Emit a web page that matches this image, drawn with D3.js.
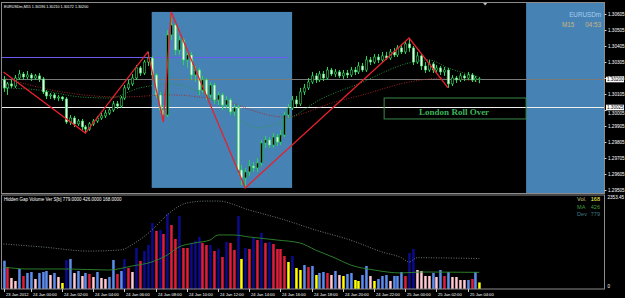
<!DOCTYPE html>
<html><head><meta charset="utf-8">
<script src="https://cdn.jsdelivr.net/npm/d3@7"></script>
<style>html,body{margin:0;padding:0;background:#000;overflow:hidden}svg{display:block}</style>
</head><body><svg id="c" width="625" height="298"></svg>
<script>
// ---------- DATA ----------
const open  = [1.30193,1.30143,1.30168,1.30155,1.30205,1.30230,1.30211,1.30224,1.30205,1.30218,
1.30199,1.30118,1.30093,1.30099,1.30080,1.30086,1.30074,1.29930,1.29955,1.29918,
1.29936,1.29899,1.29886,1.29918,1.29936,1.29955,1.29968,1.29986,1.30005,1.30043,
1.30030,1.30080,1.30143,1.30168,1.30205,1.30268,1.30236,1.30305,1.30330,1.30224,
1.30099,1.30005,1.29974,1.30474,1.30536,1.30380,1.30443,1.30318,1.30349,1.30224,
1.30255,1.30130,1.30193,1.30099,1.30161,1.30068,1.30099,1.30036,1.30068,1.29993,
1.30018,1.29630,1.29580,1.29618,1.29655,1.29643,1.29674,1.29799,1.29818,1.29786,
1.29836,1.29805,1.29849,1.29974,1.30018,1.30068,1.30043,1.30118,1.30143,1.30180,
1.30218,1.30193,1.30230,1.30205,1.30255,1.30230,1.30243,1.30218,1.30236,1.30224,
1.30255,1.30243,1.30280,1.30255,1.30318,1.30305,1.30336,1.30318,1.30343,1.30330,
1.30368,1.30349,1.30393,1.30368,1.30418,1.30393,1.30305,1.30343,1.30280,1.30255,
1.30293,1.30255,1.30268,1.30243,1.30255,1.30168,1.30205,1.30193,1.30218,1.30205,
1.30224,1.30193,1.30196];
const high  = [1.30218,1.30180,1.30193,1.30224,1.30255,1.30243,1.30249,1.30236,1.30230,1.30236,
1.30211,1.30130,1.30111,1.30111,1.30099,1.30093,1.30086,1.29974,1.29968,1.29949,
1.29949,1.29911,1.29930,1.29949,1.29968,1.29986,1.30005,1.30018,1.30061,1.30061,
1.30093,1.30161,1.30193,1.30230,1.30286,1.30280,1.30318,1.30368,1.30343,1.30236,
1.30118,1.30036,1.30505,1.30618,1.30555,1.30468,1.30455,1.30380,1.30368,1.30280,
1.30268,1.30218,1.30205,1.30180,1.30174,1.30118,1.30111,1.30093,1.30080,1.30043,
1.30036,1.29661,1.29643,1.29693,1.29680,1.29705,1.29818,1.29843,1.29836,1.29861,
1.29855,1.29880,1.29993,1.30043,1.30093,1.30093,1.30143,1.30168,1.30205,1.30243,
1.30236,1.30249,1.30249,1.30274,1.30268,1.30261,1.30255,1.30255,1.30255,1.30274,
1.30274,1.30305,1.30299,1.30343,1.30336,1.30355,1.30355,1.30368,1.30368,1.30386,
1.30393,1.30411,1.30418,1.30436,1.30455,1.30405,1.30368,1.30355,1.30305,1.30318,
1.30305,1.30286,1.30280,1.30274,1.30268,1.30224,1.30218,1.30236,1.30230,1.30243,
1.30236,1.30218,1.30210];
const low   = [1.30118,1.30099,1.30143,1.30143,1.30193,1.30193,1.30199,1.30186,1.30193,1.30180,
1.30105,1.30074,1.30074,1.30068,1.30061,1.30061,1.29918,1.29911,1.29899,1.29905,
1.29880,1.29861,1.29874,1.29905,1.29924,1.29943,1.29955,1.29974,1.29993,1.30011,
1.30018,1.30068,1.30130,1.30155,1.30193,1.30218,1.30224,1.30280,1.30205,1.30080,
1.29986,1.29930,1.29961,1.30443,1.30349,1.30349,1.30286,1.30268,1.30193,1.30180,
1.30099,1.30111,1.30068,1.30080,1.30043,1.30036,1.30005,1.30018,1.29974,1.29968,
1.29599,1.29536,1.29518,1.29593,1.29618,1.29618,1.29655,1.29768,1.29768,1.29768,
1.29780,1.29786,1.29836,1.29955,1.30005,1.30024,1.30030,1.30099,1.30130,1.30168,
1.30174,1.30180,1.30186,1.30193,1.30218,1.30211,1.30205,1.30199,1.30205,1.30211,
1.30224,1.30230,1.30243,1.30243,1.30286,1.30293,1.30299,1.30305,1.30318,1.30318,
1.30336,1.30336,1.30355,1.30355,1.30368,1.30286,1.30293,1.30255,1.30236,1.30243,
1.30236,1.30236,1.30224,1.30218,1.30143,1.30155,1.30174,1.30180,1.30186,1.30193,
1.30180,1.30180,1.30172];
const close = [1.30143,1.30168,1.30155,1.30205,1.30230,1.30211,1.30224,1.30205,1.30218,1.30199,
1.30118,1.30093,1.30099,1.30080,1.30086,1.30074,1.29930,1.29955,1.29918,1.29936,
1.29899,1.29886,1.29918,1.29936,1.29955,1.29968,1.29986,1.30005,1.30043,1.30030,
1.30080,1.30143,1.30168,1.30205,1.30268,1.30236,1.30305,1.30330,1.30224,1.30099,
1.30005,1.29974,1.30474,1.30536,1.30380,1.30443,1.30318,1.30349,1.30224,1.30255,
1.30130,1.30193,1.30099,1.30161,1.30068,1.30099,1.30036,1.30068,1.29993,1.30018,
1.29630,1.29580,1.29618,1.29655,1.29643,1.29674,1.29799,1.29818,1.29786,1.29836,
1.29805,1.29849,1.29974,1.30018,1.30068,1.30043,1.30118,1.30143,1.30180,1.30218,
1.30193,1.30230,1.30205,1.30255,1.30230,1.30243,1.30218,1.30236,1.30224,1.30255,
1.30243,1.30280,1.30255,1.30318,1.30305,1.30336,1.30318,1.30343,1.30330,1.30368,
1.30349,1.30393,1.30368,1.30418,1.30393,1.30305,1.30343,1.30280,1.30255,1.30293,
1.30255,1.30268,1.30243,1.30255,1.30168,1.30205,1.30193,1.30218,1.30205,1.30224,
1.30193,1.30205,1.30200];

const volume = [724,563,282,205,512,333,410,435,256,410,
435,461,358,410,307,154,742,768,410,461,
333,410,384,307,435,282,256,307,742,384,
461,768,538,435,1050,717,973,1126,1690,1485,
1510,1408,1920,1638,1280,1869,1050,1050,1178,1229,
1331,1178,1126,1126,973,1024,819,1203,1178,998,
1869,768,1050,1024,1306,1254,1434,1178,1203,1152,
1024,1024,845,691,845,538,486,614,563,589,
358,410,435,410,358,461,358,333,384,410,
230,205,358,589,333,205,256,333,358,205,
333,333,435,333,922,1024,486,461,333,333,
410,307,486,333,435,307,307,230,230,230,
256,435,168];
// volume bar class: L up-normal, D up-high, R down-high, P down-normal, Y low
const volClass = ("LRPPLRLLPL"+"LLPLPYDLPL"+"PLRPLPPLLR"+"LDRPDRDDDR"+"DRDRRDRRDD"+
                  "DRRDRDRDRR"+"DYDRDRDRDR"+"RRRYDYYLRL"+"YLLRPLPYLL"+"YYLLPYLLLP"+
                  "LLLRDDPPPP"+"LPLRLPPPPL"+"RLY").split("");

const zigIdx   = [0, 21, 37, 41, 43, 62, 104, 114];
const zigPrice = [1.30243, 1.29861, 1.30368, 1.29930, 1.30618, 1.29518, 1.30455, 1.30143];

const maFastIdx   = [0,9,20,27,35,43,50,58,65,74,81,91,104,109,114,122];
const maFastPrice = [1.30143,1.30130,1.30086,1.30080,1.30143,1.30168,1.30118,1.29993,1.29893,1.29961,1.30068,1.30168,1.30299,1.30318,1.30268,1.30211];
const maSlowIdx   = [0,15,30,43,55,72,85,92,104,113,122];
const maSlowPrice = [1.30205,1.30118,1.30086,1.30099,1.30068,1.29961,1.30055,1.30099,1.30180,1.30205,1.30180];

const volMaIdx = [0,6,16,27,33,38,42,45,49,53,55,59,63,70,76,80,85,89,95,102,107,122];
const volMa    = [563,512,512,486,589,691,870,1075,1178,1254,1382,1382,1331,1254,1178,998,794,614,486,410,435,426];
const devIdx = [0,10,22,30,34,38,42,47,52,55,63,72,80,89,97,102,104,106,122];
const devVal = [1152,1075,970,1000,1200,1500,1900,2200,2250,2250,2020,1770,1510,1250,950,800,690,800,779];

const priceTicks = [1.30605,1.30505,1.30405,1.30305,1.30205,1.30105,1.30005,1.29905,1.29805,1.29705,1.29605,1.29505];
const timeIdx    = [0,7,15,23,31,39,47,55,63,71,79,87,95,103,111,119];
const timeLabels = ["23 Jan 2012","24 Jan 00:00","24 Jan 02:00","24 Jan 04:00","24 Jan 06:00","24 Jan 08:00",
  "24 Jan 10:00","24 Jan 12:00","24 Jan 14:00","24 Jan 16:00","24 Jan 18:00","24 Jan 20:00","24 Jan 22:00",
  "25 Jan 00:00","25 Jan 02:00","25 Jan 04:00"];

const symbolTitle = "EURUSDm,M15  1.30196 1.30210 1.30172 1.30200";
const volTitle = "Hidden Gap Volume Ver S[b] 779.0000 426.0000 168.0000";
const currentPrice = 1.30200;
const hLinePrice = 1.30025;
const purpleLinePrice = 1.30336, purpleLineEnd = 73;
const box1 = {i0:38, i1:74, p0:1.30618, p1:1.29518};
const box2 = {i0:134};
const rollBox = {i0:97.6, i1:134, p0:1.30080, p1:1.29949, label:"London Roll Over"};

// ---------- SCALES ----------
const svg = d3.select("#c");
const L = 2, R = 604.5, T = 2.5, B = 193.5, VT = 195.5, VB = 289;
const x = d3.scaleLinear().domain([0, 154]).range([3.5, 3.5 + 3.9*154]);
const y = d3.scaleLinear().domain([1.29505, 1.30605]).range([190, 14]);
const yv = d3.scaleLinear().domain([0, 2353.45]).range([VB, 197]);
const volColor = d3.scaleOrdinal().domain(["L","D","R","P","Y"])
  .range(["#5b8def","#0b0b8c","#e01e3c","#ffc8d2","#ffff00"]);

svg.append("rect").attr("width",625).attr("height",298).attr("fill","#000");
const defs = svg.append("defs");
defs.append("clipPath").attr("id","cm").append("rect").attr("x",L).attr("y",T).attr("width",R-L).attr("height",B-T);
defs.append("clipPath").attr("id","cv").append("rect").attr("x",L).attr("y",VT).attr("width",R-L).attr("height",VB-VT);

const gm = svg.append("g").attr("clip-path","url(#cm)");
// blue boxes
gm.append("rect").attr("x",x(box1.i0)).attr("y",y(box1.p0)).attr("width",x(box1.i1)-x(box1.i0))
  .attr("height",y(box1.p1)-y(box1.p0)).attr("fill","#4682b4");
gm.append("rect").attr("x",x(box2.i0)).attr("y",T).attr("width",R-x(box2.i0)).attr("height",B-T).attr("fill","#4682b4");
// horizontal lines
gm.append("line").attr("x1",L).attr("x2",x(purpleLineEnd)).attr("y1",Math.round(y(purpleLinePrice))+0.5)
  .attr("y2",Math.round(y(purpleLinePrice))+0.5).attr("stroke","#6a5cf0").attr("stroke-width",1.2);
gm.append("line").attr("x1",L).attr("x2",R).attr("y1",Math.round(y(currentPrice))+0.5)
  .attr("y2",Math.round(y(currentPrice))+0.5).attr("stroke","#7a7a7a").attr("stroke-width",1);
gm.append("line").attr("x1",L).attr("x2",R).attr("y1",Math.round(y(hLinePrice))+0.5)
  .attr("y2",Math.round(y(hLinePrice))+0.5).attr("stroke","#f0f0f0").attr("stroke-width",1);
// roll over box
gm.append("rect").attr("x",x(rollBox.i0)).attr("y",y(rollBox.p0)).attr("width",x(rollBox.i1)-x(rollBox.i0))
  .attr("height",y(rollBox.p1)-y(rollBox.p0)).attr("fill","none").attr("stroke","#3a8a4a").attr("stroke-width",1);
gm.append("text").attr("x",(x(rollBox.i0)+x(rollBox.i1))/2 - 1).attr("y",y(rollBox.p1)-3.5)
  .attr("text-anchor","middle").attr("font-family","Liberation Serif").attr("font-weight","bold")
  .attr("font-size",9).attr("fill","#3cb45a").text(rollBox.label);

// moving averages
const line = d3.line().curve(d3.curveMonotoneX);
gm.append("path").attr("d",line(maSlowIdx.map((d,i)=>[x(d),y(maSlowPrice[i])])))
  .attr("fill","none").attr("stroke","#b02828").attr("stroke-width",0.9).attr("stroke-dasharray","1,1.5");
gm.append("path").attr("d",line(maFastIdx.map((d,i)=>[x(d),y(maFastPrice[i])])))
  .attr("fill","none").attr("stroke","#2aa040").attr("stroke-width",0.9).attr("stroke-dasharray","1,1.5");

// candles (bear = white body, bull = black body, green outline)
const idx = d3.range(close.length);
const cg = gm.append("g");
cg.selectAll("line").data(idx).join("line")
  .attr("x1",i=>Math.round(x(i))+0.5).attr("x2",i=>Math.round(x(i))+0.5)
  .attr("y1",i=>y(high[i])).attr("y2",i=>y(low[i])).attr("stroke","#2ed25a").attr("stroke-width",1);
cg.selectAll("rect").data(idx).join("rect")
  .attr("x",i=>Math.round(x(i))-0.7).attr("width",2.4)
  .attr("y",i=>y(Math.max(open[i],close[i])))
  .attr("height",i=>Math.max(0.8,Math.abs(y(open[i])-y(close[i]))))
  .attr("fill",i=>close[i]>=open[i]?"#000":"#eaffea")
  .attr("stroke","#2ed25a").attr("stroke-width",0.6);

// zigzag
gm.append("path").attr("d",d3.line()(zigIdx.map((d,i)=>[x(d),y(zigPrice[i])])))
  .attr("fill","none").attr("stroke","#e8202c").attr("stroke-width",1.3);

// top-right info
svg.append("text").attr("x",601).attr("y",16.5).attr("text-anchor","end").attr("font-family","Liberation Sans")
  .attr("font-size",6.3).attr("fill","#a8cdf0").text("EURUSDm");
svg.append("text").attr("x",562).attr("y",26.5).attr("font-family","Liberation Sans")
  .attr("font-size",6.3).attr("fill","#cdb57a").text("M15");
svg.append("text").attr("x",601).attr("y",26.5).attr("text-anchor","end").attr("font-family","Liberation Sans")
  .attr("font-size",6.3).attr("fill","#cdb57a").text("04:53");
// small shift marker
svg.append("path").attr("d",`M${x(123.5)-2},3 L${x(123.5)+2},3 L${x(123.5)},5.5 Z`).attr("fill","#c0c0c0");

// title
svg.append("text").attr("x",4).attr("y",8).attr("font-family","Liberation Sans").attr("font-size",3.7)
  .attr("fill","#fff").text(symbolTitle);

// ---------- VOLUME ----------
const gv = svg.append("g").attr("clip-path","url(#cv)");
gv.selectAll("rect").data(idx).join("rect")
  .attr("x",i=>Math.round(x(i))-0.8).attr("width",2.5)
  .attr("y",i=>yv(volume[i])).attr("height",i=>VB-yv(volume[i]))
  .attr("fill",i=>volColor(volClass[i]));
gv.append("path").attr("d",d3.line().curve(d3.curveMonotoneX)(volMaIdx.map((d,i)=>[x(d),yv(volMa[i])])))
  .attr("fill","none").attr("stroke","#2f8a2f").attr("stroke-width",0.9);
gv.append("path").attr("d",d3.line().curve(d3.curveMonotoneX)(devIdx.map((d,i)=>[x(d),yv(devVal[i])])))
  .attr("fill","none").attr("stroke","#8a9a8a").attr("stroke-width",0.8).attr("stroke-dasharray","1,1.5");
svg.append("text").attr("x",4).attr("y",200.5).attr("font-family","Liberation Sans").attr("font-size",4.5)
  .attr("fill","#fff").text(volTitle);
const info = [["Vol.","168","#c8c87a","#ffff60",201],["MA","426","#3c9c3c","#3c9c3c",208.5],["Dev","779","#3c7c84","#3c7c84",216]];
info.forEach(d=>{
  svg.append("text").attr("x",577).attr("y",d[4]).attr("font-family","Liberation Sans").attr("font-size",5.6).attr("fill",d[2]).text(d[0]);
  svg.append("text").attr("x",600).attr("y",d[4]).attr("text-anchor","end").attr("font-family","Liberation Sans").attr("font-size",5.6).attr("fill",d[3]).text(d[1]);
});

// ---------- FRAMES ----------
svg.append("rect").attr("x",1.5).attr("y",T).attr("width",R-1.5).attr("height",B-T).attr("fill","none").attr("stroke","#8c8c8c");
svg.append("rect").attr("x",1.5).attr("y",VT-0.5).attr("width",R-1.5).attr("height",VB-VT+0.5).attr("fill","none").attr("stroke","#8c8c8c");

// price axis
const ax = svg.append("g").attr("transform",`translate(${R},0)`)
  .call(d3.axisRight(y).tickValues(priceTicks).tickFormat(d3.format(".5f")).tickSize(2).tickPadding(1.5));
ax.select(".domain").remove();
ax.selectAll("line").attr("stroke","#ccc");
ax.selectAll("text").attr("fill","#fff").attr("font-size",4.6).attr("font-family","Liberation Sans")
  .attr("dy",d=>Math.abs(d-1.30005)<1e-7?"1.05em":"0.32em");
// boxed price labels
[[currentPrice,"#fff"],[hLinePrice,"#fff"]].forEach(([p,c])=>{
  const yy = Math.round(y(p))+0.5;
  svg.append("rect").attr("x",R+1.5).attr("y",yy-2.8).attr("width",18).attr("height",5.6).attr("fill",c);
  svg.append("text").attr("x",R+2.5).attr("y",yy+1.6).attr("font-family","Liberation Sans").attr("font-size",4.6)
    .attr("fill","#000").text(d3.format(".5f")(p));
});
// volume axis labels
svg.append("text").attr("x",R+3).attr("y",199).attr("font-family","Liberation Sans").attr("font-size",4.6).attr("fill","#fff").text("2353.45");
svg.append("text").attr("x",R+3).attr("y",288).attr("font-family","Liberation Sans").attr("font-size",4.6).attr("fill","#fff").text("0");

// time axis
const tg = svg.append("g");
timeIdx.forEach((d,k)=>{
  const xx = Math.round(x(d))+0.5;
  tg.append("line").attr("x1",xx).attr("x2",xx).attr("y1",VB).attr("y2",VB+3).attr("stroke","#ccc");
  tg.append("text").attr("x",xx+1.5).attr("y",295.5).attr("font-family","Liberation Sans").attr("font-size",4.1)
    .attr("fill","#fff").text(timeLabels[k]);
});
</script></body></html>
